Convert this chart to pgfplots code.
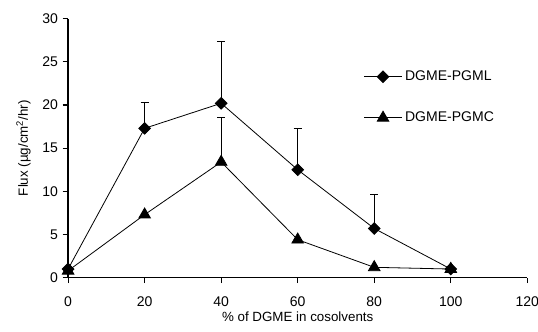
\documentclass[border=0pt]{standalone}
\usepackage{fontspec}
\setmainfont{Liberation Sans}
\usepackage{pgfplots}
\pgfplotsset{compat=1.18}
\begin{document}
\begin{tikzpicture}
\begin{axis}[name=ax,
  scale only axis, width=344pt, height=194pt,
  xmin=0, xmax=120, ymin=0, ymax=30,
  xtick={0,20,...,120}, ytick={0,5,...,30},
  axis x line=bottom, axis y line=left,
  axis line style={-, line width=1pt},
  tick style={black, line width=0.8pt},
  tick align=outside, major tick length=4pt,
  /pgf/number format/assume math mode=true,
  tick label style={font=\fontsize{10.5}{12}\selectfont},
  xticklabel style={yshift=-7pt},
  xlabel={\% of DGME in cosolvents},
  ylabel={Flux (µg/cm\textsuperscript{2}/hr)},
  label style={font=\fontsize{10}{12}\selectfont},
  xlabel style={yshift=3pt},
  ylabel style={yshift=2pt},
  legend style={at={(0.643,0.81)}, anchor=north west, draw=none, fill=none,
    font=\fontsize{10.5}{12}\selectfont, row sep=18pt, inner sep=0pt},
  legend cell align=left,
  legend image code/.code={\draw[mark repeat=2,mark phase=2] plot coordinates {(0cm,0cm) (0.5cm,0cm) (1cm,0cm)};},
]
\addplot[black, line width=0.6pt, mark=square*, mark size=3.1pt, mark options={rotate=45, solid},
  error bars/.cd, y dir=plus, y explicit, error mark options={rotate=90, mark size=3pt, line width=0.6pt},
  error bar style={line width=0.6pt}]
  coordinates {(0,1.0) +- (0,0) (20,17.3) +- (0,3.0) (40,20.2) +- (0,7.2) (60,12.5) +- (0,4.8) (80,5.7) +- (0,3.9) (100,1.0) +- (0,0)};
\addlegendentry{DGME-PGML}
\addplot[black, line width=0.6pt, mark=triangle*, mark size=5pt, mark options={solid},
  error bars/.cd, y dir=plus, y explicit, error mark options={rotate=90, mark size=3pt, line width=0.6pt},
  error bar style={line width=0.6pt}]
  coordinates {(0,0.8) +- (0,0) (20,7.3) +- (0,0) (40,13.4) +- (0,5.2) (60,4.4) +- (0,0) (80,1.2) +- (0,0) (100,1.0) +- (0,0)};
\addlegendentry{DGME-PGMC}
\end{axis}
\pgfresetboundingbox
\path ([xshift=-51pt,yshift=-40pt]ax.south west) rectangle ([xshift=8pt,yshift=14pt]ax.north east);
\end{tikzpicture}
\end{document}
